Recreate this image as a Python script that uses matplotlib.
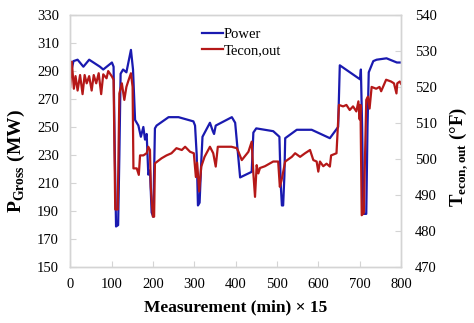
import matplotlib
matplotlib.use("Agg")
import matplotlib.pyplot as plt

plt.rcParams["font.family"] = ["Liberation Serif", "DejaVu Serif"]
plt.rcParams["mathtext.fontset"] = "custom"
plt.rcParams["mathtext.rm"] = "Liberation Serif"
plt.rcParams["mathtext.bf"] = "Liberation Serif:bold"

# gross power (MW), left axis
power_x = [0, 3, 8, 18, 32, 46, 72, 80, 101, 105, 108, 111, 116, 119, 122, 128, 136,
           147, 152, 157, 165, 171, 177, 181, 185, 189, 193, 197, 201, 205, 209, 238,
           262, 298, 302, 306, 309, 313, 317, 320, 338, 345, 348, 352, 391, 399, 411,
           439, 443, 450, 491, 506, 509, 512, 515, 518, 520, 548, 584, 628, 648, 652,
           701, 703, 706, 709, 716, 719, 722, 733, 741, 765, 790, 800]
power_y = [289, 290, 297, 298, 293, 298, 293, 291, 296, 293, 230, 179, 180, 230, 288, 291, 289,
           305, 291, 255, 251, 243, 250, 241, 245, 216, 219, 189, 186, 249, 251, 257,
           257, 254, 251, 230, 194, 196, 225, 243, 253, 247, 245, 251, 257, 253, 214,
           218, 246, 249, 247, 243, 210, 194, 194, 215, 242, 248, 248, 242, 250, 294,
           284, 291, 250, 188, 188, 250, 289, 297, 298, 299, 296, 296]

# economizer outlet temperature (F), right axis
temp_x = [0, 4, 9, 13, 18, 24, 30, 35, 40, 46,
          52, 57, 63, 69, 75, 80, 88, 92, 101, 105,
          109, 115, 119, 125, 131, 136, 141, 147, 151, 153,
          161, 166, 169, 177, 185, 189, 193, 195, 200, 203,
          205, 213, 221, 233, 245, 257, 270, 278, 290, 299,
          304, 307, 312, 317, 325, 338, 346, 352, 357, 373,
          390, 403, 407, 415, 431, 439, 443, 447, 451, 455,
          459, 471, 491, 503, 507, 511, 520, 536, 544, 556,
          568, 580, 588, 596, 600, 604, 612, 620, 628, 631,
          644, 650, 660, 668, 676, 684, 692, 697, 700, 702,
          705, 710, 716, 720, 724, 729, 740, 748, 752, 764,
          776, 783, 789, 791, 797, 800]
temp_y = [520, 527, 519.5, 523, 519, 523.3, 518, 523.3, 521, 523,
          519, 523.3, 521, 523.8, 518, 523.5, 522.4, 524.4, 522.9, 522,
          486, 486, 518.2, 521, 516.4, 520, 521.8, 523.8, 520, 497.4,
          497.4, 495.6, 501, 501, 501.6, 503.4, 502.5, 492.3, 484, 484,
          498.8, 499.5, 500.2, 501, 501.6, 503, 502.5, 503.4, 502, 501.6,
          495, 499, 491, 497.9, 500.6, 503.4, 501.6, 497.9, 503.4, 503.4,
          503.4, 503, 502, 499.7, 502, 504.8, 496, 489.5, 498.3, 496,
          497.5, 498, 499.3, 499.3, 492.3, 494, 499.3, 500.6, 501.6, 500.6,
          501.6, 502.5, 499.7, 499.3, 496.5, 499.3, 498, 498.7, 497.9, 501,
          501.6, 515, 514.6, 515, 513.6, 514.6, 513.2, 516, 511, 515,
          484.4, 485, 516.4, 517.3, 514, 520, 519.5, 520, 518.8, 522,
          521.5, 521, 518.2, 521, 521.5, 520.9]

grey = "#d4d4d4"

fig = plt.figure(figsize=(4.74, 3.23), dpi=100)
ax = fig.add_axes([0.148, 0.173, 0.698, 0.781])
ax2 = ax.twinx()

l1, = ax.plot(power_x, power_y, color="#1a1ab0", lw=1.6, label="Power")
l2, = ax2.plot(temp_x, temp_y, color="#b51818", lw=1.6, label="Tecon,out")

ax.set_xlim(0, 800)
ax.set_ylim(150, 330)
ax2.set_ylim(470, 540)
ax.set_xticks(range(0, 801, 100))
ax.set_yticks(range(150, 331, 20))
ax2.set_yticks(range(470, 541, 10))

for a in (ax, ax2):
    for s in a.spines.values():
        s.set_color(grey)
        s.set_linewidth(1.0)
    a.tick_params(direction="in", length=4, color=grey, labelsize=10.5)
ax.tick_params(axis="y", pad=8)
ax.tick_params(axis="x", pad=8)
ax2.tick_params(axis="y", pad=10)

ax.set_xlabel("Measurement (min) × 15", fontsize=12.5, fontweight="bold", labelpad=6)
ax.set_ylabel(r"$\mathbf{P}_{\mathbf{Gross}}$ (MW)", fontsize=14, fontweight="bold")
ax2.set_ylabel(r"$\mathbf{T}_{\mathbf{econ,out}}$ (°F)", fontsize=13.5, fontweight="bold")
ax.yaxis.label.set_va("center")
ax2.yaxis.label.set_va("center")
ax.yaxis.set_label_coords(-0.162, 0.42)
ax2.yaxis.set_label_coords(1.175, 0.435)

ax2.legend([l1, l2], ["Power", "Tecon,out"], loc="upper left", bbox_to_anchor=(0.399, 0.95),
           frameon=False, fontsize=10.5, handlelength=1.4, handletextpad=0.1,
           labelspacing=0.2, borderpad=0, borderaxespad=0)

fig.savefig("out.png", dpi=100)
